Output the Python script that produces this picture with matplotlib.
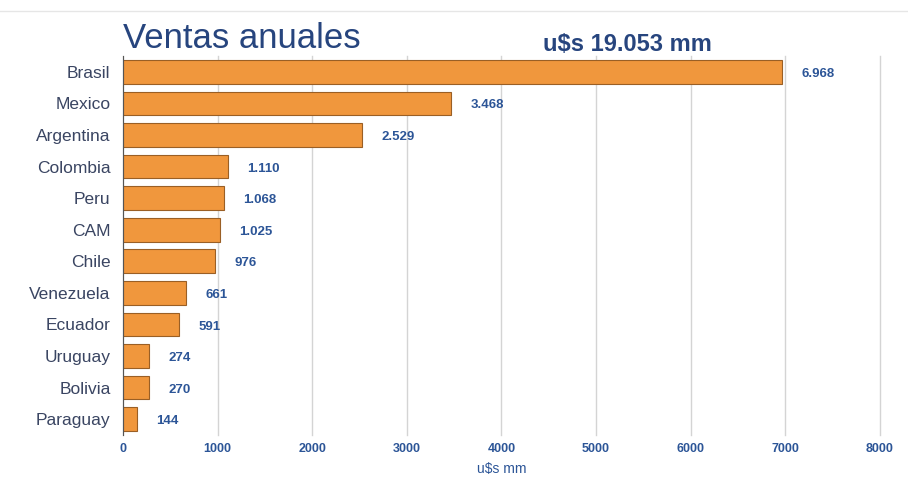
import matplotlib.pyplot as plt

plt.rcParams['font.family'] = ['Liberation Sans', 'DejaVu Sans']

paises = ['Brasil', 'Mexico', 'Argentina', 'Colombia', 'Peru', 'CAM', 'Chile',
          'Venezuela', 'Ecuador', 'Uruguay', 'Bolivia', 'Paraguay']
ventas = [6968, 3468, 2529, 1110, 1068, 1025, 976, 661, 591, 274, 270, 144]
etiquetas = ['6.968', '3.468', '2.529', '1.110', '1.068', '1.025', '976',
             '661', '591', '274', '270', '144']
ticks_x = [0, 1000, 2000, 3000, 4000, 5000, 6000, 7000, 8000]

azul = '#2c5597'
naranja = '#f0973d'

fig = plt.figure(figsize=(9.08, 4.79), dpi=100)
ax = fig.add_axes([0.1355, 0.092, 0.8335, 0.791])

ax.barh(range(len(paises)), ventas, height=0.75, color=naranja,
        edgecolor='#9a5f25', linewidth=0.8, zorder=3)
ax.set_ylim(len(paises) - 0.5, -0.5)
ax.set_xlim(0, 8000)
ax.set_yticks(range(len(paises)))
ax.set_yticklabels(paises, fontsize=12.5, color='#3a4562')
ax.set_xticks(ticks_x)
ax.set_xticklabels([str(t) for t in ticks_x], fontsize=9, color=azul,
                   fontweight='bold')
ax.tick_params(axis='x', length=0, pad=6)
ax.tick_params(axis='y', length=0, pad=9)

for i, (v, t) in enumerate(zip(ventas, etiquetas)):
    ax.annotate(t, (v, i), xytext=(14, -1.5), textcoords='offset points',
                ha='left', va='center', fontsize=9.5, color=azul,
                fontweight='bold')

ax.grid(axis='x', color='#d4d4d4', linewidth=1, zorder=0)
for s in ['top', 'right', 'bottom']:
    ax.spines[s].set_visible(False)
ax.spines['left'].set_color('#555555')
ax.spines['left'].set_zorder(4)
for g in ax.get_xgridlines():
    g.set_clip_on(False)

ax.set_xlabel('u$s mm', fontsize=10, color=azul, labelpad=5)

fig.text(0.1355, 0.9, 'Ventas anuales', fontsize=25, color='#27457e',
         va='baseline', ha='left')
fig.text(0.598, 0.8935, 'u$s 19.053 mm', fontsize=17, color='#27457e',
         va='baseline', ha='left', fontweight='bold')
fig.add_artist(plt.Line2D([0, 1], [0.978, 0.978], color='#e6e6e6', lw=1))

fig.savefig('out.png', dpi=100)
